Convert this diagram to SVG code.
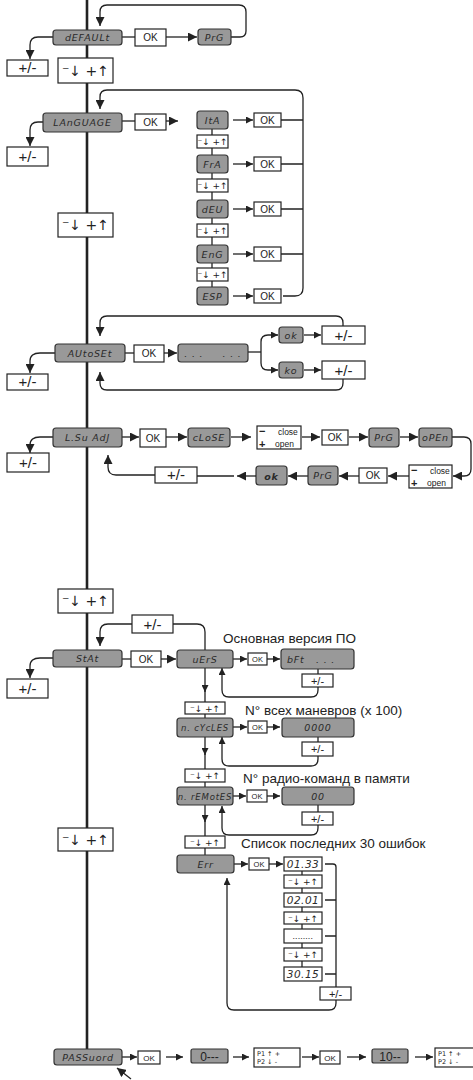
<svg xmlns="http://www.w3.org/2000/svg" width="473" height="1080" viewBox="0 0 473 1080">
<style>
.n{fill:#999;stroke:#333;stroke-width:1.2}
.b{fill:#fff;stroke:#222;stroke-width:1.2}
.lcd{font-family:"DejaVu Sans","Liberation Sans",sans-serif;font-style:italic;font-size:9.5px;fill:#2a2a2a;text-anchor:middle;letter-spacing:0.8px}
.ok{font-family:"Liberation Sans",sans-serif;font-size:10px;fill:#222;text-anchor:middle}
.pm{font-family:"Liberation Sans",sans-serif;font-size:15px;fill:#222;text-anchor:middle}
.pms{font-family:"Liberation Sans",sans-serif;font-size:11px;fill:#222;text-anchor:middle}
.ud{font-family:"DejaVu Sans",sans-serif;font-size:14px;fill:#222;text-anchor:middle}
.uds{font-family:"DejaVu Sans",sans-serif;font-size:9px;fill:#222;text-anchor:middle}
.lab{font-family:"Liberation Sans",sans-serif;font-size:13.5px;fill:#222}
.sm{font-family:"Liberation Sans",sans-serif;font-size:8.5px;fill:#222}
.sg{font-family:"Liberation Sans",sans-serif;font-size:11px;fill:#222;font-weight:bold}
.tiny{font-family:"DejaVu Sans",sans-serif;font-size:6.5px;fill:#222}
.c{fill:none;stroke:#222;stroke-width:1.3}
.m{fill:none;stroke:#222;stroke-width:2.6}
</style>
<defs>
<marker id="a" viewBox="0 0 8 8" refX="8" refY="4" markerWidth="7" markerHeight="7" markerUnits="userSpaceOnUse" orient="auto"><path d="M0,0 L8,4 L0,8 z" fill="#222"/></marker>
<marker id="A" viewBox="0 0 8 8" refX="8" refY="4" markerWidth="9" markerHeight="9" markerUnits="userSpaceOnUse" orient="auto"><path d="M0,0 L8,4 L0,8 z" fill="#222"/></marker>
</defs>

<g id="connectors">
<line class="m" x1="87" y1="0" x2="87" y2="1049"/>
<!-- DEFAULT -->
<path class="c" d="M231 37 H240 Q246 37 246 31 V12 Q246 5 239 5 H107 Q100 5 100 12 V26" marker-end="url(#A)"/>
<path class="c" d="M122 37 H135"/>
<path class="c" d="M166 37 H197" marker-end="url(#A)"/>
<path class="c" d="M53 37 H38 Q30 37 30 45 V59" marker-end="url(#A)"/>
<!-- LANGUAGE -->
<path class="c" d="M283 296 H295 Q303 296 303 288 V98 Q303 90 295 90 H107 Q100 90 100 97 V109" marker-end="url(#A)"/>
<path class="c" d="M122 121 H135"/>
<path class="c" d="M166 121 H178" marker-end="url(#A)"/>
<path class="c" d="M43 122 H38 Q30 122 30 130 V146" marker-end="url(#A)"/>
<path class="c" d="M233 120 H253" marker-end="url(#a)"/>
<path class="c" d="M233 164 H253" marker-end="url(#a)"/>
<path class="c" d="M233 209 H253" marker-end="url(#a)"/>
<path class="c" d="M233 254 H253" marker-end="url(#a)"/>
<path class="c" d="M233 296 H253" marker-end="url(#a)"/>
<path class="c" d="M281 120 H303 M281 164 H303 M281 209 H303 M281 254 H303"/>
<path class="c" d="M212 129 V155 M212 173 V200 M212 218 V245 M212 263 V287"/>
<!-- AUTOSET -->
<path class="c" d="M343 326 V323 Q343 316 336 316 H107 Q100 316 100 323 V336" marker-end="url(#A)"/>
<path class="c" d="M343 379 V383 Q343 390 336 390 H107 Q100 390 100 383 V372" marker-end="url(#A)"/>
<path class="c" d="M125 353 H134"/>
<path class="c" d="M164 353 H177" marker-end="url(#A)"/>
<path class="c" d="M55 353 H40 Q30 353 30 361 V373" marker-end="url(#A)"/>
<path class="c" d="M248 352 H261"/>
<path class="c" d="M261 352 V342 Q261 335 268 335 H278" marker-end="url(#a)"/>
<path class="c" d="M261 352 V363 Q261 370 268 370 H278" marker-end="url(#a)"/>
<path class="c" d="M304 335 H321" marker-end="url(#a)"/>
<path class="c" d="M304 370 H321" marker-end="url(#a)"/>
<!-- L.SU ADJ -->
<path class="c" d="M122 437 H139" marker-end="url(#A)"/>
<path class="c" d="M166 437 H187" marker-end="url(#A)"/>
<path class="c" d="M231 437 H251" marker-end="url(#A)"/>
<path class="c" d="M302 437 H320" marker-end="url(#A)"/>
<path class="c" d="M349 437 H368" marker-end="url(#A)"/>
<path class="c" d="M400 437 H418" marker-end="url(#A)"/>
<path class="c" d="M452 437 H464 Q471 437 471 444 V469 Q471 476 464 476 H453" marker-end="url(#A)"/>
<path class="c" d="M409 476 H388" marker-end="url(#A)"/>
<path class="c" d="M359 476 H339" marker-end="url(#A)"/>
<path class="c" d="M308 476 H288" marker-end="url(#A)"/>
<path class="c" d="M256 476 H237" marker-end="url(#A)"/>
<path class="c" d="M234 476 H197"/>
<path class="c" d="M155 475 H116 Q108 475 108 467 V455" marker-end="url(#A)"/>
<path class="c" d="M53 437 H40 Q30 437 30 445 V453" marker-end="url(#A)"/>
<!-- STAT -->
<path class="c" d="M132 624 H108 Q100 624 100 632 V646" marker-end="url(#A)"/>
<path class="c" d="M173 624 H197 Q205 624 205 632 V650"/>
<path class="c" d="M122 659 H131"/>
<path class="c" d="M161 659 H176" marker-end="url(#A)"/>
<path class="c" d="M53 658 H40 Q30 658 30 666 V678" marker-end="url(#A)"/>
<path class="c" d="M205 668 V692" marker-end="url(#a)"/>
<path class="c" d="M205 690 V702 M205 714 V718"/>
<path class="c" d="M233 659 H247" marker-end="url(#a)"/>
<path class="c" d="M267 659 H280" marker-end="url(#a)"/>
<path class="c" d="M318 669 V674"/>
<path class="c" d="M318 687 V690 Q318 697 311 697 H229 Q222 697 222 690 V668" marker-end="url(#a)"/>
<path class="c" d="M205 737 V755" marker-end="url(#a)"/>
<path class="c" d="M205 753 V769 M205 782 V787"/>
<path class="c" d="M233 727 H247" marker-end="url(#a)"/>
<path class="c" d="M267 727 H280" marker-end="url(#a)"/>
<path class="c" d="M318 737 V742"/>
<path class="c" d="M318 756 V759 Q318 766 311 766 H229 Q222 766 222 759 V737" marker-end="url(#a)"/>
<path class="c" d="M205 805 V822" marker-end="url(#a)"/>
<path class="c" d="M205 820 V836 M205 848 V855"/>
<path class="c" d="M233 796 H246" marker-end="url(#a)"/>
<path class="c" d="M267 796 H280" marker-end="url(#a)"/>
<path class="c" d="M318 805 V812"/>
<path class="c" d="M318 825 V828 Q318 835 311 835 H229 Q222 835 222 828 V806" marker-end="url(#a)"/>
<path class="c" d="M234 864 H248" marker-end="url(#a)"/>
<path class="c" d="M269 864 H283" marker-end="url(#a)"/>
<path class="c" d="M302 871 V967"/>
<path class="c" d="M325 864 H333 Q336 864 336 867 V987 M325 900 H336 M325 936 H336 M325 974 H336"/>
<path class="c" d="M336 1000 V1003 Q336 1010 329 1010 H234 Q227 1010 227 1003 V878" marker-end="url(#a)"/>
<!-- PASSWORD -->
<path class="c" d="M122 1057 H137" marker-end="url(#a)"/>
<path class="c" d="M166 1057 H183" marker-end="url(#a)"/>
<path class="c" d="M233 1057 H249" marker-end="url(#a)"/>
<path class="c" d="M302 1057 H319" marker-end="url(#a)"/>
<path class="c" d="M347 1057 H366" marker-end="url(#a)"/>
<path class="c" d="M415 1057 H433" marker-end="url(#a)"/>
<path class="c" d="M131 1079 L117 1068" marker-end="url(#A)"/>
</g>

<!-- DEFAULT -->
<g id="default"><rect class="n" x="53" y="30" width="69" height="15" rx="3"/><text class="lcd" x="87.5" y="41">dEFAULt</text></g>
<g id="default-ok"><rect class="b" x="135" y="29" width="31" height="17"/><text class="ok" x="150.5" y="41">OK</text></g>
<g id="default-prg"><rect class="n" x="198" y="29" width="33" height="16" rx="3"/><text class="lcd" x="214.5" y="40.5">PrG</text></g>
<g id="default-pm"><rect class="b" x="7" y="60" width="41" height="16"/><text class="pm" x="27.5" y="73">+/-</text></g>
<g id="ud1"><rect class="b" x="58" y="58" width="55" height="25"/><text class="ud" x="85.5" y="76">⁻↓ +↑</text></g>

<!-- LANGUAGE -->
<g id="language"><rect class="n" x="43" y="113" width="79" height="19" rx="3"/><text class="lcd" x="82.5" y="126">LAnGUAGE</text></g>
<g id="language-ok"><rect class="b" x="135" y="114" width="31" height="16"/><text class="ok" x="150.5" y="126">OK</text></g>
<g id="language-pm"><rect class="b" x="7" y="147" width="41" height="19"/><text class="pm" x="27.5" y="161.5">+/-</text></g>
<g id="ud2"><rect class="b" x="58" y="213" width="55" height="24"/><text class="ud" x="85.5" y="230">⁻↓ +↑</text></g>

<g id="ita"><rect class="n" x="197" y="111" width="31" height="18" rx="3"/><text class="lcd" x="212.5" y="123.5">ItA</text></g>
<g id="ita-ok"><rect class="b" x="254" y="113" width="27" height="14"/><text class="ok" x="267.5" y="123.5">OK</text></g>
<g id="ud-l1"><rect class="b" x="197" y="135" width="31" height="13"/><text class="uds" x="212.5" y="145">⁻↓ +↑</text></g>
<g id="fra"><rect class="n" x="197" y="155" width="31" height="18" rx="3"/><text class="lcd" x="212.5" y="167.5">FrA</text></g>
<g id="fra-ok"><rect class="b" x="254" y="157" width="27" height="14"/><text class="ok" x="267.5" y="167.5">OK</text></g>
<g id="ud-l2"><rect class="b" x="197" y="179" width="31" height="13"/><text class="uds" x="212.5" y="189">⁻↓ +↑</text></g>
<g id="deu"><rect class="n" x="197" y="200" width="31" height="18" rx="3"/><text class="lcd" x="212.5" y="212.5">dEU</text></g>
<g id="deu-ok"><rect class="b" x="254" y="202" width="27" height="14"/><text class="ok" x="267.5" y="212.5">OK</text></g>
<g id="ud-l3"><rect class="b" x="197" y="224" width="31" height="13"/><text class="uds" x="212.5" y="234">⁻↓ +↑</text></g>
<g id="eng"><rect class="n" x="197" y="245" width="31" height="18" rx="3"/><text class="lcd" x="212.5" y="257.5">EnG</text></g>
<g id="eng-ok"><rect class="b" x="254" y="247" width="27" height="14"/><text class="ok" x="267.5" y="257.5">OK</text></g>
<g id="ud-l4"><rect class="b" x="197" y="268" width="31" height="13"/><text class="uds" x="212.5" y="278">⁻↓ +↑</text></g>
<g id="esp"><rect class="n" x="197" y="287" width="31" height="18" rx="3"/><text class="lcd" x="212.5" y="299.5">ESP</text></g>
<g id="esp-ok"><rect class="b" x="254" y="289" width="27" height="14"/><text class="ok" x="267.5" y="299.5">OK</text></g>

<!-- AUTOSET -->
<g id="autoset"><rect class="n" x="55" y="344" width="70" height="18" rx="3"/><text class="lcd" x="90" y="356.5">AUtoSEt</text></g>
<g id="autoset-ok"><rect class="b" x="134" y="345" width="30" height="17"/><text class="ok" x="149" y="357">OK</text></g>
<g id="autoset-run"><rect class="n" x="178" y="344" width="70" height="18" rx="3"/><text class="lcd" x="213" y="357" xml:space="preserve">. . .     . . .</text></g>
<g id="ok-res"><rect class="n" x="279" y="327" width="24" height="16" rx="3"/><text class="lcd" x="291" y="339">ok</text></g>
<g id="ok-pm"><rect class="b" x="322" y="326" width="43" height="18"/><text class="pm" x="343.5" y="340.5">+/-</text></g>
<g id="ko-res"><rect class="n" x="279" y="362" width="24" height="16" rx="3"/><text class="lcd" x="291" y="374">ko</text></g>
<g id="ko-pm"><rect class="b" x="322" y="361" width="43" height="18"/><text class="pm" x="343.5" y="375.5">+/-</text></g>
<g id="autoset-pm"><rect class="b" x="7" y="374" width="41" height="16"/><text class="pm" x="27.5" y="387">+/-</text></g>

<!-- L.SU ADJ -->
<g id="lsw"><rect class="n" x="53" y="428" width="69" height="19" rx="3"/><text class="lcd" x="87.5" y="441">L.Su AdJ</text></g>
<g id="lsw-ok"><rect class="b" x="140" y="429" width="26" height="18"/><text class="ok" x="153" y="441.5">OK</text></g>
<g id="close"><rect class="n" x="188" y="428" width="42" height="19" rx="3"/><text class="lcd" x="209" y="441">cLoSE</text></g>
<g id="co1"><rect class="b" x="257" y="426" width="44" height="23"/><text class="sg" x="259" y="435">−</text><text class="sg" x="259" y="448">+</text><text class="sm" x="278" y="434.5">close</text><text class="sm" x="275" y="446.5">open</text></g>
<g id="lsw-ok2"><rect class="b" x="322" y="430" width="26" height="15"/><text class="ok" x="335" y="441">OK</text></g>
<g id="prg1"><rect class="n" x="369" y="428" width="30" height="19" rx="3"/><text class="lcd" x="384" y="441">PrG</text></g>
<g id="open"><rect class="n" x="419" y="428" width="33" height="19" rx="3"/><text class="lcd" x="435.5" y="441">oPEn</text></g>
<g id="co2"><rect class="b" x="409" y="465" width="43" height="23"/><text class="sg" x="411" y="474">−</text><text class="sg" x="411" y="487">+</text><text class="sm" x="430" y="473.5">close</text><text class="sm" x="427" y="485.5">open</text></g>
<g id="lsw-ok3"><rect class="b" x="359" y="468" width="28" height="15"/><text class="ok" x="373" y="479">OK</text></g>
<g id="prg2"><rect class="n" x="308" y="466" width="30" height="19" rx="3"/><text class="lcd" x="323" y="479">PrG</text></g>
<g id="ok2"><rect class="n" x="256" y="466" width="31" height="19" rx="3"/><text class="lcd" x="271.5" y="479.5" style="font-weight:bold">ok</text></g>
<g id="lsw-pm2"><rect class="b" x="155" y="467" width="42" height="16"/><text class="pm" x="176" y="480">+/-</text></g>
<g id="lsw-pm"><rect class="b" x="7" y="453" width="42" height="19"/><text class="pm" x="28" y="467.5">+/-</text></g>

<!-- STAT -->
<g id="ud3"><rect class="b" x="58" y="589" width="55" height="24"/><text class="ud" x="85.5" y="606">⁻↓ +↑</text></g>
<g id="stat-pm-top"><rect class="b" x="132" y="615" width="41" height="18"/><text class="pm" x="152.5" y="629.5">+/-</text></g>
<g id="stat"><rect class="n" x="53" y="650" width="69" height="17" rx="3"/><text class="lcd" x="87.5" y="662">StAt</text></g>
<g id="stat-ok"><rect class="b" x="131" y="651" width="30" height="16"/><text class="ok" x="146" y="663">OK</text></g>
<g id="stat-pm"><rect class="b" x="7" y="679" width="41" height="19"/><text class="pm" x="27.5" y="693.5">+/-</text></g>
<g id="vers"><rect class="n" x="177" y="650" width="56" height="18" rx="3"/><text class="lcd" x="205" y="662.5">uErS</text></g>
<g id="vers-ok"><rect class="b" x="248" y="653" width="19" height="12"/><text class="ok" x="257.5" y="662" style="font-size:7.5px">OK</text></g>
<g id="bft"><rect class="n" x="281" y="649" width="73" height="20" rx="3"/><text class="lcd" x="287" y="662.5" style="text-anchor:start" xml:space="preserve">bFt   . . .</text></g>
<g id="vers-pm"><rect class="b" x="302" y="674" width="31" height="13"/><text class="pms" x="317.5" y="684.5">+/-</text></g>
<text class="lab" x="223" y="643">Основная версия ПО</text>
<g id="ud-s1"><rect class="b" x="185" y="702" width="40" height="12"/><text class="uds" x="205" y="711.5">⁻↓ +↑</text></g>
<text class="lab" x="245" y="715">N° всех маневров (x 100)</text>
<g id="cycles"><rect class="n" x="177" y="718" width="56" height="19" rx="3"/><text class="lcd" x="205" y="731" style="font-size:8.5px">n. cYcLES</text></g>
<g id="cycles-ok"><rect class="b" x="248" y="721" width="19" height="12"/><text class="ok" x="257.5" y="730" style="font-size:7.5px">OK</text></g>
<g id="cycles-val"><rect class="n" x="282" y="718" width="72" height="19" rx="3"/><text class="lcd" x="318" y="731">0000</text></g>
<g id="cycles-pm"><rect class="b" x="302" y="742" width="31" height="14"/><text class="pms" x="317.5" y="753">+/-</text></g>
<g id="ud-s2"><rect class="b" x="185" y="769" width="40" height="13"/><text class="uds" x="205" y="779">⁻↓ +↑</text></g>
<text class="lab" x="243" y="783">N° радио-команд в памяти</text>
<g id="remotes"><rect class="n" x="177" y="787" width="56" height="18" rx="3"/><text class="lcd" x="205" y="799.5" style="font-size:8.5px">n. rEMotES</text></g>
<g id="remotes-ok"><rect class="b" x="247" y="790" width="20" height="12"/><text class="ok" x="257" y="799" style="font-size:7.5px">OK</text></g>
<g id="remotes-val"><rect class="n" x="282" y="787" width="72" height="18" rx="3"/><text class="lcd" x="318" y="799.5">00</text></g>
<g id="remotes-pm"><rect class="b" x="302" y="812" width="31" height="13"/><text class="pms" x="317.5" y="822.5">+/-</text></g>
<g id="ud-s3"><rect class="b" x="185" y="836" width="40" height="12"/><text class="uds" x="205" y="845.5">⁻↓ +↑</text></g>
<text class="lab" x="241" y="848">Список последних 30 ошибок</text>
<g id="ud4"><rect class="b" x="58" y="828" width="55" height="23"/><text class="ud" x="85.5" y="844.5">⁻↓ +↑</text></g>
<g id="err"><rect class="n" x="177" y="855" width="57" height="18" rx="3"/><text class="lcd" x="205.5" y="867.5">Err</text></g>
<g id="err-ok"><rect class="b" x="249" y="858" width="20" height="12"/><text class="ok" x="259" y="867" style="font-size:7.5px">OK</text></g>
<g id="e1"><rect class="b" x="284" y="857" width="38" height="14"/><text class="lcd" x="303" y="868" style="font-size:10.5px;letter-spacing:0.5px">01.33</text></g>
<g id="ud-e1"><rect class="b" x="284" y="875" width="38" height="13"/><text class="uds" x="303" y="885">⁻↓ +↑</text></g>
<g id="e2"><rect class="b" x="284" y="893" width="38" height="14"/><text class="lcd" x="303" y="904" style="font-size:10.5px;letter-spacing:0.5px">02.01</text></g>
<g id="ud-e2"><rect class="b" x="284" y="912" width="38" height="12"/><text class="uds" x="303" y="921.5">⁻↓ +↑</text></g>
<g id="e3"><rect class="b" x="284" y="929" width="38" height="14"/><text class="lcd" x="303" y="939" style="font-size:8px;letter-spacing:0">........</text></g>
<g id="ud-e3"><rect class="b" x="284" y="948" width="38" height="13"/><text class="uds" x="303" y="958">⁻↓ +↑</text></g>
<g id="e4"><rect class="b" x="284" y="967" width="38" height="14"/><text class="lcd" x="303" y="978" style="font-size:10.5px;letter-spacing:0.5px">30.15</text></g>
<g id="err-pm"><rect class="b" x="320" y="987" width="31" height="13"/><text class="pms" x="335.5" y="997.5">+/-</text></g>

<!-- PASSWORD -->
<g id="password"><rect class="n" x="54" y="1049" width="68" height="16" rx="3"/><text class="lcd" x="88" y="1060.5">PASSuord</text></g>
<g id="pw-ok1"><rect class="b" x="138" y="1051" width="22" height="13"/><text class="ok" x="149" y="1060.5" style="font-size:8px">OK</text></g>
<g id="pw-v1"><rect class="n" x="191" y="1049" width="37" height="14" rx="2"/><text class="ok" x="209.5" y="1060.5" style="font-size:12px">0---</text></g>
<g id="pw-p1"><rect class="b" x="254" y="1048" width="46" height="19"/><text class="tiny" x="257" y="1056">P1 ↑   +</text><text class="tiny" x="257" y="1064">P2 ↓   -</text></g>
<g id="pw-ok2"><rect class="b" x="320" y="1051" width="20" height="13"/><text class="ok" x="330" y="1060.5" style="font-size:8px">OK</text></g>
<g id="pw-v2"><rect class="n" x="372" y="1049" width="36" height="14" rx="2"/><text class="ok" x="390" y="1060.5" style="font-size:12px">10--</text></g>
<g id="pw-p2"><rect class="b" x="435" y="1048" width="46" height="19"/><text class="tiny" x="438" y="1056">P1 ↑   +</text><text class="tiny" x="438" y="1064">P2 ↓   -</text></g>
</svg>
